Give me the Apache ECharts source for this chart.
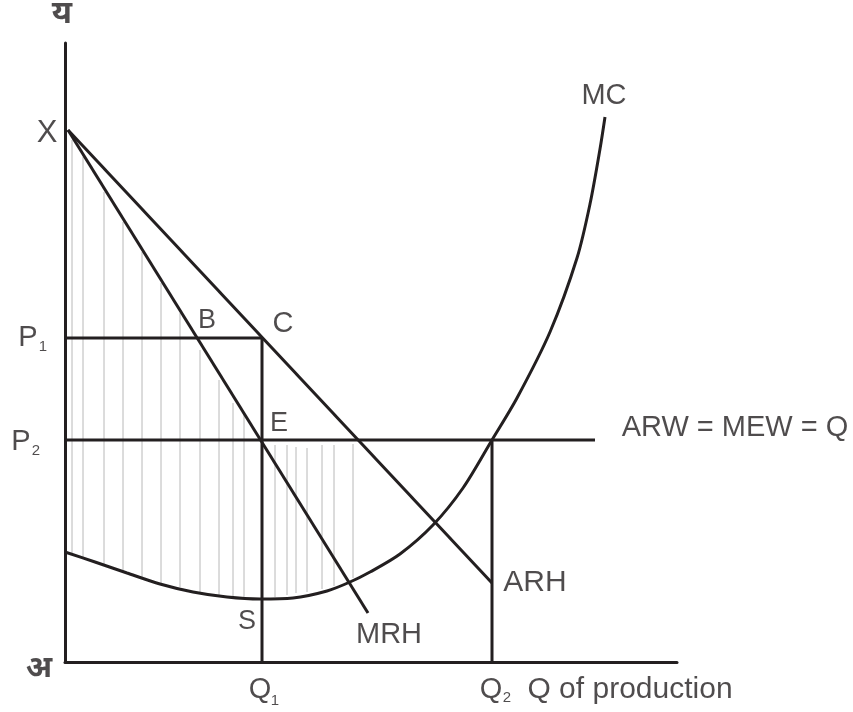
<!DOCTYPE html>
<html>
<head>
<meta charset="utf-8">
<script src="https://cdn.jsdelivr.net/npm/echarts@6/dist/echarts.min.js"></script>
<style>
html,body{margin:0;padding:0;background:#fff;}
#chart{width:853px;height:712px;}
</style>
</head>
<body>
<div id="chart"></div>
<script>
// Axis extents (diagram units)
var xMax = 612;
var yMax = 619;

// Straight curves: [x, y] end points
var arhLine = [[3, 532], [427, 79]];
var mrhLine = [[3, 532], [303, 49]];
var p1Line = [[0, 324], [197, 324]];
var q1Line = [[197, 324], [197, 0]];
var p2Line = [[0, 222], [530, 222]];
var q2Line = [[427, 222], [427, 0]];

// MC curve
var mcX = [0, 30, 62, 95, 128, 162, 195, 228, 262, 285, 305, 335, 368, 398, 427, 452, 485, 512, 525, 535, 540];
var mcY = [110, 100, 89, 78, 70, 65, 63, 64, 71, 80, 90, 108, 137, 174, 222, 264, 330, 404, 458, 513, 545];

// Hatching (vertical strokes)
var hatchX = [7, 18, 39, 58, 77, 96, 115, 135, 154, 168, 179, 210, 222, 231, 242, 257, 269, 288];
var hatchTop = [522, 505, 470, 440, 410, 379, 349, 312, 282, 259, 249, 217, 217, 215, 214, 217, 217, 218];
var hatchBottom = [107, 103, 96, 89, 84, 79, 75, 70, 67, 65, 64, 65, 67, 69, 70, 73, 76, 84];

// Text labels: text, x, y, size, bold
var labelText = ['य', 'X', 'P', '1', 'P', '2', 'B', 'C', 'E', 'S', 'MRH', 'ARH', 'MC', 'ARW = MEW = Q', 'अ', 'Q', '1', 'Q', '2', 'Q of production'];
var labelX = [-3, -18, -37, -22, -44, -29, 142, 218, 214, 182, 324, 470, 539, 670, -26, 195, 210, 426, 442, 565];
var labelY = [645, 529, 324, 315, 220, 211, 341, 338, 238, 40, 27, 79, 566, 234, -9, -28, -39, -28, -36, -28];
var labelSize = [32, 31, 29, 15, 29, 15, 27, 29, 27, 27, 29, 30, 29, 29, 31, 29, 15, 29, 15, 30];
var labelBold = [true, false, false, false, false, false, false, false, false, false, false, false, false, false, true, false, false, false, false, false];

var INK = '#231f20';
var FONT = '"Liberation Sans", Arial, "Noto Sans", sans-serif';
var DEVA = '"Noto Sans Devanagari", "Noto Sans", "Liberation Sans", sans-serif';

function seg(data, w) {
  return {
    type: 'line', data: data, symbol: 'none', silent: true,
    lineStyle: {color: INK, width: w || 3}, z: 5
  };
}

var mcData = mcX.map(function (x, i) { return [x, mcY[i]]; });
var hatchData = hatchX.map(function (x, i) { return [x, hatchTop[i], hatchBottom[i]]; });
var labelData = labelText.map(function (t, i) {
  var isDeva = /[\u0900-\u097F]/.test(t);
  return {
    name: t,
    value: [labelX[i], labelY[i]],
    label: {
      fontSize: labelSize[i],
      fontWeight: labelBold[i] ? 'bold' : 'normal',
      fontFamily: isDeva ? DEVA : FONT
    }
  };
});

var chart = echarts.init(document.getElementById('chart'), null, {renderer: 'canvas'});
chart.setOption({
  animation: false,
  backgroundColor: '#fff',
  grid: {left: 65, right: 853 - 677, top: 43, bottom: 50, containLabel: false},
  xAxis: {
    type: 'value', min: 0, max: xMax,
    axisLine: {show: true, onZero: false, lineStyle: {color: INK, width: 3}},
    axisTick: {show: false}, axisLabel: {show: false}, splitLine: {show: false}
  },
  yAxis: {
    type: 'value', min: 0, max: yMax,
    axisLine: {show: true, onZero: false, lineStyle: {color: INK, width: 3}},
    axisTick: {show: false}, axisLabel: {show: false}, splitLine: {show: false}
  },
  series: [
    {
      type: 'custom', silent: true, z: 1,
      data: hatchData,
      renderItem: function (params, api) {
        var p1 = api.coord([api.value(0), api.value(1)]);
        var p2 = api.coord([api.value(0), api.value(2)]);
        return {
          type: 'line',
          shape: {x1: p1[0], y1: p1[1], x2: p2[0], y2: p2[1]},
          style: {stroke: '#b8b8b8', lineWidth: 1}
        };
      }
    },
    seg(arhLine, 3),
    seg(mrhLine, 3),
    seg(p1Line, 3),
    seg(q1Line, 3),
    seg(p2Line, 3),
    seg(q2Line, 3),
    {
      type: 'line', data: mcData, symbol: 'none', smooth: 0.3, silent: true,
      lineStyle: {color: INK, width: 3}, z: 5
    },
    {
      type: 'scatter', data: labelData, symbolSize: 0, clip: false, silent: true, z: 10,
      label: {
        show: true, position: 'inside', color: INK,
        formatter: function (p) { return p.name; }
      }
    }
  ]
});
</script>
</body>
</html>
